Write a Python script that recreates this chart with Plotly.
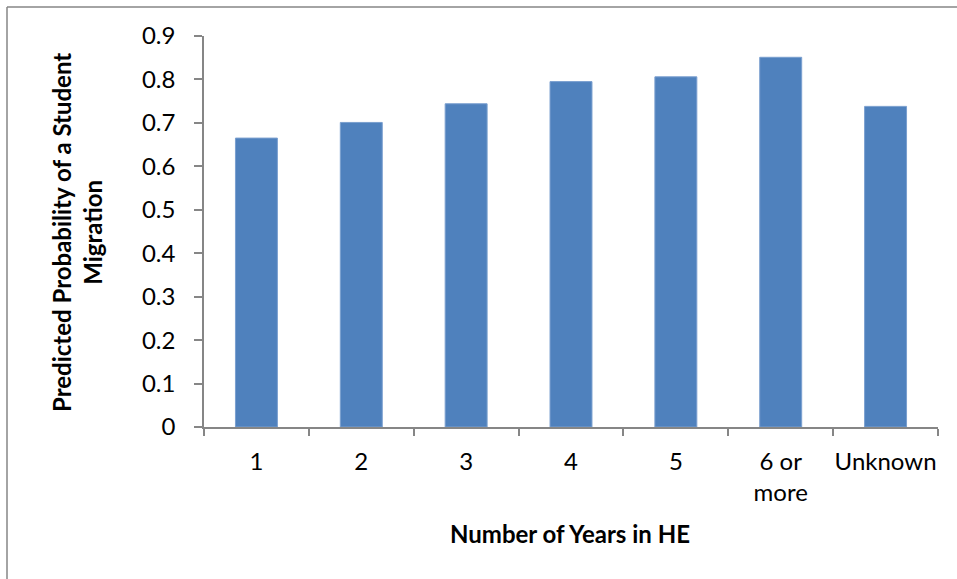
import plotly.graph_objects as go

# Predicted probability by number of years in higher education
categories = ["1", "2", "3", "4", "5", "6 or<br>more", "Unknown"]
probabilities = [0.665, 0.701, 0.744, 0.795, 0.806, 0.851, 0.738]
y_ticks = [0, 0.1, 0.2, 0.3, 0.4, 0.5, 0.6, 0.7, 0.8, 0.9]
y_tick_labels = ["0", "0.1", "0.2", "0.3", "0.4", "0.5", "0.6", "0.7", "0.8", "0.9"]

W, H = 957, 579
L, R, T, B = 204, 19, 36, 152
pw, ph = W - L - R, H - T - B


def px_x(p):
    return (p - L) / pw


def px_y(p):
    return (H - B - p) / ph


FONT = "Lato, Calibri, Carlito, sans-serif"
AXIS_GREY = "#868686"

fig = go.Figure(
    go.Bar(
        x=categories,
        y=probabilities,
        marker=dict(color="#4F81BD", line=dict(color="#7A9FCF", width=1)),
        width=0.4,
        hoverinfo="x+y",
    )
)

fig.update_layout(
    width=W,
    height=H,
    margin=dict(l=L, r=R, t=T, b=B, autoexpand=False),
    paper_bgcolor="white",
    plot_bgcolor="white",
    showlegend=False,
    font=dict(family=FONT, size=24, color="black"),
    xaxis=dict(
        type="category",
        showline=True,
        linecolor=AXIS_GREY,
        linewidth=1.5,
        ticks="outside",
        tickson="boundaries",
        ticklen=7,
        tickcolor=AXIS_GREY,
        tickwidth=1.5,
        showgrid=False,
        tickangle=0,
        automargin=False,
        tickfont=dict(family=FONT, size=24),
        ticklabelstandoff=12,
        fixedrange=True,
    ),
    yaxis=dict(
        range=[0, 0.9],
        tickvals=y_ticks,
        ticktext=y_tick_labels,
        showline=True,
        linecolor=AXIS_GREY,
        linewidth=1.5,
        ticks="outside",
        ticklen=8,
        tickcolor=AXIS_GREY,
        tickwidth=1.5,
        showgrid=False,
        zeroline=False,
        automargin=False,
        tickfont=dict(family=FONT, size=24),
        ticklabelstandoff=14,
        fixedrange=True,
    ),
    annotations=[
        dict(
            text="<b>Number of Years in HE</b>",
            x=px_x(570), y=px_y(533),
            xref="paper", yref="paper",
            showarrow=False,
            xanchor="center", yanchor="middle",
            font=dict(family=FONT, size=24),
        ),
        dict(
            text="<b>Predicted Probability of a Student<br>Migration</b>",
            x=px_x(77), y=px_y(233),
            xref="paper", yref="paper",
            showarrow=False,
            textangle=-90,
            xanchor="center", yanchor="middle",
            font=dict(family=FONT, size=24),
        ),
    ],
    shapes=[
        # chart area frame (top and left edges visible)
        dict(type="line", xref="paper", yref="paper",
             x0=px_x(7), x1=px_x(W + 5), y0=px_y(7), y1=px_y(7),
             line=dict(color=AXIS_GREY, width=1.5)),
        dict(type="line", xref="paper", yref="paper",
             x0=px_x(7), x1=px_x(7), y0=px_y(7), y1=px_y(H + 5),
             line=dict(color=AXIS_GREY, width=1.5)),
    ],
)

fig.write_html("out.html")
